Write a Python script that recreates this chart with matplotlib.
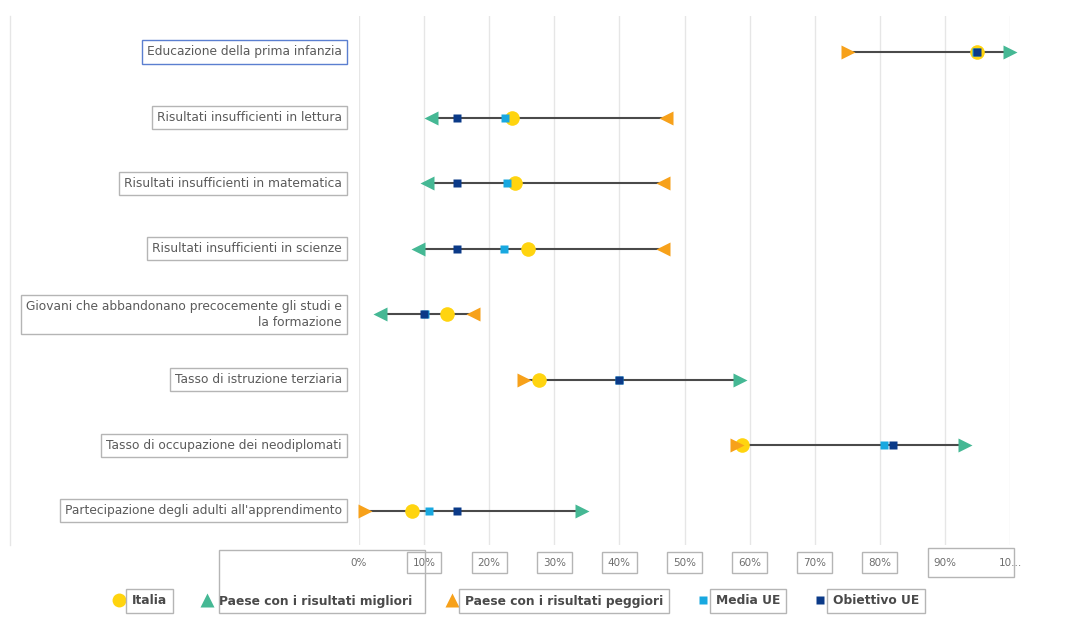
import numpy as np
import matplotlib.pyplot as plt
from matplotlib.patches import Rectangle
from matplotlib.lines import Line2D
import matplotlib.transforms as mtransforms

# indicatori (dall'alto in basso)
categorie = [
    "Educazione della prima infanzia",
    "Risultati insufficienti in lettura",
    "Risultati insufficienti in matematica",
    "Risultati insufficienti in scienze",
    "Giovani che abbandonano precocemente gli studi e\nla formazione",
    "Tasso di istruzione terziaria",
    "Tasso di occupazione dei neodiplomati",
    "Partecipazione degli adulti all'apprendimento",
]
italia = [95.0, 23.5, 23.9, 25.9, 13.5, 27.6, 58.8, 8.1]
migliori = [100.0, 11.1, 10.4, 9.1, 3.2, 58.6, 93.1, 34.3]
peggiori = [75.1, 47.2, 46.7, 46.7, 17.5, 25.4, 58.1, 0.9]
media_ue = [94.8, 22.5, 22.8, 22.3, 10.2, 40.0, 80.7, 10.8]
obiettivo_ue = [95.0, 15.0, 15.0, 15.0, 10.0, 40.0, 82.0, 15.0]
# 1 = valori alti migliori, -1 = valori bassi migliori
direzione = [1, -1, -1, -1, -1, 1, 1, 1]

tick_val = list(range(0, 101, 10))
tick_lab = ["0%", "10%", "20%", "30%", "40%", "50%", "60%", "70%", "80%", "90%", "10..."]

c_ita = "#FFD40F"
c_best = "#45B894"
c_worst = "#F7A11A"
c_media = "#18A8E0"
c_obj = "#0B3A88"
c_grid = "#E6E6E6"
c_box = "#B5B5B5"
c_text = "#5A5A5A"

fig = plt.figure(figsize=(10.84, 6.22), dpi=100)
ax = fig.add_axes([359 / 1084, 1 - 545 / 622, 651 / 1084, 529 / 622])

y = np.arange(len(categorie))
for i in y:
    vals = [italia[i], migliori[i], peggiori[i], media_ue[i], obiettivo_ue[i]]
    ax.plot([min(vals), max(vals)], [i, i], color="#4A4A4A", lw=1.5, zorder=2,
            solid_capstyle="butt")
    tri = ">" if direzione[i] > 0 else "<"
    ax.plot(italia[i], i, "o", color=c_ita, ms=10.5, mec="none", zorder=3, clip_on=False)
    ax.plot(peggiori[i], i, tri, color=c_worst, ms=10.5, mec="none", zorder=4, clip_on=False)
    ax.plot(migliori[i], i, tri, color=c_best, ms=10.5, mec="none", zorder=4, clip_on=False)
    ax.plot(media_ue[i], i, "s", color=c_media, ms=6, mec="none", zorder=5, clip_on=False)
    ax.plot(obiettivo_ue[i], i, "s", color=c_obj, ms=6, mec="none", zorder=6, clip_on=False)

ax.set_xlim(0, 100)
ax.set_ylim(7.519, -0.549)
ax.set_yticks([])
ax.set_xticks(tick_val)
ax.set_xticklabels(tick_lab)
ax.tick_params(axis="x", length=0, pad=9, labelsize=7.5, labelcolor="#6E6E6E")
for s in ax.spines.values():
    s.set_visible(False)
ax.grid(axis="x", color=c_grid, lw=1)
ax.set_axisbelow(True)

# riquadri delle etichette sull'asse x
for t in ax.get_xticklabels():
    if t.get_text() in ("10%", "20%", "30%", "40%", "50%", "60%", "70%", "80%"):
        t.set_bbox(dict(facecolor="white", edgecolor=c_box, lw=1, pad=4.2))
bt = mtransforms.blended_transform_factory(ax.transData, fig.transFigure)
ax.add_patch(Rectangle((87.4, 1 - 577 / 622), 13.2, 29 / 622, transform=bt,
                       fill=False, edgecolor=c_box, lw=1, clip_on=False))
ax.add_patch(Rectangle((-21.5, 1 - 613 / 622), 31.6, 63 / 622, transform=bt,
                       fill=False, edgecolor=c_box, lw=1, clip_on=False, zorder=10))

# etichette degli indicatori
for i, lab in enumerate(categorie):
    ec = "#5B7FD0" if i == 0 else c_box
    ax.annotate(lab, xy=(0, i), xycoords=("axes fraction", "data"),
                xytext=(-17, 0), textcoords="offset pixels",
                ha="right", va="center", multialignment="right",
                fontsize=8.8, color=c_text, linespacing=1.3,
                bbox=dict(facecolor="white", edgecolor=ec, lw=1, pad=3.6))

# bordo sinistro dell'area del grafico
fig.add_artist(Line2D([10 / 1084, 10 / 1084], [1 - 545 / 622, 1 - 16 / 622],
                      transform=fig.transFigure, color=c_grid, lw=1))

handles = [
    Line2D([], [], ls="none", marker="o", color=c_ita, ms=10, mec="none"),
    Line2D([], [], ls="none", marker="^", color=c_best, ms=10, mec="none"),
    Line2D([], [], ls="none", marker="^", color=c_worst, ms=10, mec="none"),
    Line2D([], [], ls="none", marker="s", color=c_media, ms=6, mec="none"),
    Line2D([], [], ls="none", marker="s", color=c_obj, ms=6, mec="none"),
]
names = ["Italia", "Paese con i risultati migliori", "Paese con i risultati peggiori",
         "Media UE", "Obiettivo UE"]
leg = fig.legend(handles, names, loc="center", bbox_to_anchor=(0.476, 1 - 601 / 622),
                 ncol=5, frameon=False, fontsize=8.8, handletextpad=0.55,
                 columnspacing=2.75, handlelength=1.0)
for t in leg.get_texts():
    t.set_color("#4A4A4A")
    t.set_fontweight("bold")
    if t.get_text() != "Paese con i risultati migliori":
        t.set_bbox(dict(facecolor="white", edgecolor=c_box, lw=1, pad=4.2))

fig.savefig("out.png", dpi=100, facecolor="white")
